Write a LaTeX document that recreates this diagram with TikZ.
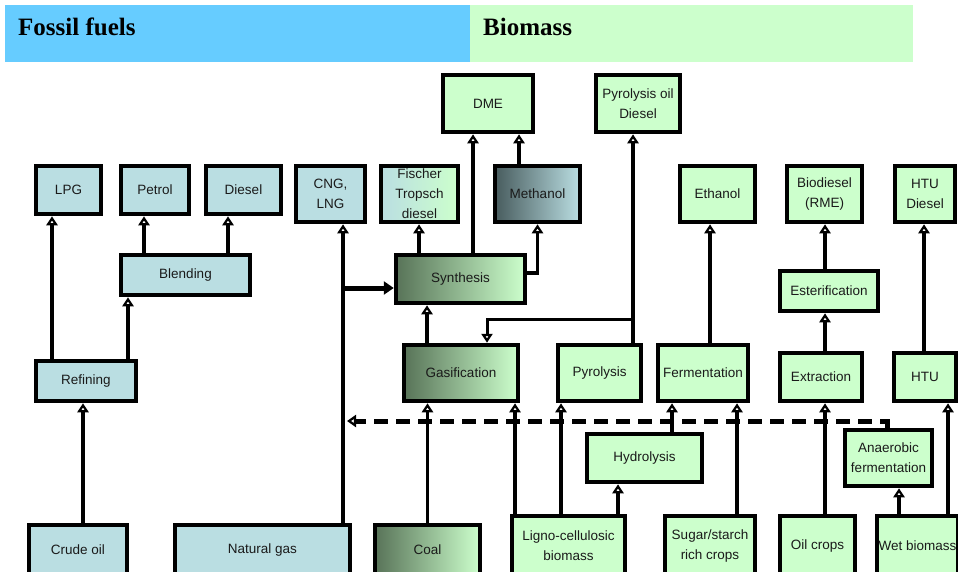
\documentclass[tikz,border=0pt]{standalone}
\usepackage{fontspec}
\setmainfont{Liberation Sans}
\newfontfamily\hdrfont{Liberation Serif}
\usetikzlibrary{arrows.meta,calc}
\definecolor{fossilc}{RGB}{186,222,226}
\definecolor{bioc}{RGB}{204,255,204}
\definecolor{darkg}{RGB}{88,115,88}
\definecolor{darkm}{RGB}{72,92,94}
\definecolor{hdrblue}{RGB}{102,204,255}
\definecolor{txtc}{RGB}{26,26,26}
\tikzset{
  bx/.style={draw=black, line width=4.5pt, inner sep=1pt, align=center, text=txtc,
    font=\fontsize{13.5}{20}\selectfont},
  fossil/.style={bx, fill=fossilc},
  bio/.style={bx, fill=bioc},
  grad/.style={bx, left color=darkg, right color=bioc},
  gradm/.style={bx, left color=darkm, right color=fossilc},
  gradf/.style={bx, left color=fossilc, right color=bioc},
  arr/.style={line width=3.5pt, -{Triangle[open,width=11pt,length=9pt,line width=2.5pt]}},
  arrthin/.style={line width=3pt, -{Triangle[open,width=11pt,length=9pt,line width=2.5pt]}},
  feed/.style={line width=5pt, -{Triangle[width=13pt,length=10pt]}},
  dashline/.style={line width=5pt, dash pattern=on 14pt off 8pt, -{Triangle[open,width=12pt,length=9pt,line width=2.5pt]}},
  hdr/.style={anchor=base west, font=\hdrfont\bfseries\fontsize{25}{30}\selectfont, inner sep=0pt}
}
\begin{document}
\begin{tikzpicture}[x=1pt,y=-1pt]
\useasboundingbox (0,0) rectangle (958,571);
\clip (0,0) rectangle (958,571);
\fill[white] (0,0) rectangle (958,571);
% headers
\fill[hdrblue] (5,5) rectangle (470,62);
\fill[bioc] (470,5) rectangle (913,62);
\node[hdr] (hfossil) at (18,35) {Fossil fuels};
\node[hdr] (hbio) at (483,35) {Biomass};
% product row
\node[fossil, minimum width=65pt, minimum height=48pt] (lpg) at (68.5,190) {LPG};
\node[fossil, minimum width=68pt, minimum height=48pt] (petrol) at (155,190) {Petrol};
\node[fossil, minimum width=75pt, minimum height=48pt] (diesel) at (243.5,190) {Diesel};
\node[fossil, minimum width=69pt, minimum height=56pt] (cng) at (330.5,194) {CNG,\\LNG};
\node[gradf, minimum width=77pt, minimum height=56pt] (ft) at (419.5,194) {Fischer\\Tropsch\\diesel};
\node[bio, minimum width=90pt, minimum height=57pt] (dme) at (488,103.5) {DME};
\node[gradm, minimum width=85pt, minimum height=56pt] (methanol) at (537.5,194) {Methanol};
\node[bio, minimum width=84pt, minimum height=57pt] (pyrooil) at (638,103.5) {Pyrolysis oil\\Diesel};
\node[bio, minimum width=75pt, minimum height=56pt] (ethanol) at (717.5,194) {Ethanol};
\node[bio, minimum width=75pt, minimum height=56pt] (biodiesel) at (824.5,194) {Biodiesel\\(RME)};
\node[bio, minimum width=60pt, minimum height=56pt] (htudiesel) at (925,194) {HTU\\Diesel};
% middle rows
\node[fossil, minimum width=129pt, minimum height=40pt] (blending) at (185.5,275) {Blending};
\node[grad, minimum width=129pt, minimum height=48pt] (synthesis) at (460.5,279) {Synthesis};
\node[bio, minimum width=98pt, minimum height=40pt] (ester) at (829,291) {Esterification};
\node[fossil, minimum width=100pt, minimum height=40pt] (refining) at (86,381) {Refining};
\node[grad, minimum width=114pt, minimum height=56pt] (gasif) at (461,373) {Gasification};
\node[bio, minimum width=83pt, minimum height=56pt] (pyrolysis) at (599.5,373) {Pyrolysis};
\node[bio, minimum width=90pt, minimum height=56pt] (ferment) at (703,373) {Fermentation};
\node[bio, minimum width=82pt, minimum height=48pt] (extraction) at (821,377) {Extraction};
\node[bio, minimum width=62pt, minimum height=48pt] (htu) at (925,377) {HTU};
\node[bio, minimum width=115pt, minimum height=48pt] (hydro) at (644.5,458) {Hydrolysis};
\node[bio, minimum width=87pt, minimum height=56pt] (anaer) at (888.5,458) {Anaerobic\\fermentation};
% sources
\node[fossil, minimum width=98pt, minimum height=50pt] (crude) at (78,550) {Crude oil};
\node[fossil, minimum width=175pt, minimum height=50pt] (natgas) at (262.5,550) {Natural gas};
\node[grad, minimum width=105pt, minimum height=50pt] (coal) at (427.5,550) {Coal};
\node[bio, minimum width=113pt, minimum height=59pt] (ligno) at (568.5,545.5) {Ligno-cellulosic\\biomass};
\node[bio, minimum width=90pt, minimum height=59pt] (sugar) at (710,545.5) {Sugar/starch\\rich crops};
\node[bio, minimum width=75pt, minimum height=59pt] (oil) at (817.5,545.5) {Oil crops};
\node[bio, minimum width=81pt, minimum height=59pt, inner sep=0pt] (wet) at (917.5,545.5) {Wet biomass};
% connectors: fossil
\draw[arr] ([xshift=-34pt]refining.north) -- ([xshift=-34pt]refining.north |- lpg.south);
\draw[arr] ([xshift=42pt]refining.north) -- ([xshift=42pt]refining.north |- blending.south);
\draw[arr] ([xshift=-41.5pt]blending.north) -- ([xshift=-41.5pt]blending.north |- petrol.south);
\draw[arr] ([xshift=42.5pt]blending.north) -- ([xshift=42.5pt]blending.north |- diesel.south);
\draw[arr] ([xshift=5pt]crude.north) -- ([xshift=5pt]crude.north |- refining.south);
\draw[arr, line width=4.5pt] ([xshift=80.5pt]natgas.north) -- ([xshift=80.5pt]natgas.north |- cng.south);
\coordinate (ngj) at (343,288);
\draw[feed] (ngj) -- (ngj -| synthesis.west);
% gas / synthesis
\draw[arr] (coal.north) -- (coal.north |- gasif.south);
\draw[arr] ([xshift=-34pt]gasif.north) -- ([xshift=-34pt]gasif.north |- synthesis.south);
\draw[arr] ([xshift=-41.5pt]synthesis.north) -- ([xshift=-41.5pt]synthesis.north |- ft.south);
\draw[arr] ([xshift=12.5pt]synthesis.north) -- ([xshift=12.5pt]synthesis.north |- dme.south);
\draw[arr] ([xshift=-18.5pt]methanol.north) -- ([xshift=-18.5pt]methanol.north |- dme.south);
\draw[arr] ([yshift=6pt]synthesis.east) -| (methanol.south);
% pyrolysis
\draw[arr] ([xshift=33.5pt]pyrolysis.north) -- ([xshift=33.5pt]pyrolysis.north |- pyrooil.south);
\coordinate (pyj) at (633,319);
\draw[arrthin] (pyj) -| ([xshift=26pt]gasif.north);
% biomass feeds
\draw[arr] ([xshift=-53.5pt]ligno.north) -- ([xshift=-53.5pt]ligno.north |- gasif.south);
\draw[arr] ([xshift=-7.5pt]ligno.north) -- ([xshift=-7.5pt]ligno.north |- pyrolysis.south);
\draw[arr] ([xshift=49.5pt]ligno.north) -- ([xshift=49.5pt]ligno.north |- hydro.south);
\draw[arr] ([xshift=27.5pt]hydro.north) -- ([xshift=27.5pt]hydro.north |- ferment.south);
\draw[arr] ([xshift=27pt]sugar.north) -- ([xshift=27pt]sugar.north |- ferment.south);
\draw[arr] ([xshift=7pt]ferment.north) -- ([xshift=7pt]ferment.north |- ethanol.south);
\draw[arr] ([xshift=7.5pt]oil.north) -- ([xshift=7.5pt]oil.north |- extraction.south);
\draw[arr] ([xshift=4pt]extraction.north) -- ([xshift=4pt]extraction.north |- ester.south);
\draw[arr] ([xshift=-4pt]ester.north) -- ([xshift=-4pt]ester.north |- biodiesel.south);
\draw[arr] ([xshift=-18.5pt]wet.north) -- ([xshift=-18.5pt]wet.north |- anaer.south);
\draw[arr] ([xshift=30.5pt]wet.north) -- ([xshift=30.5pt]wet.north |- htu.south);
\draw[arr] ([xshift=-1pt]htu.north) -- ([xshift=-1pt]htu.north |- htudiesel.south);
% dashed biogas return
\coordinate (dashend) at (347,421);
\draw[dashline] ([xshift=-1.5pt]anaer.north) |- (dashend);
\end{tikzpicture}
\end{document}
